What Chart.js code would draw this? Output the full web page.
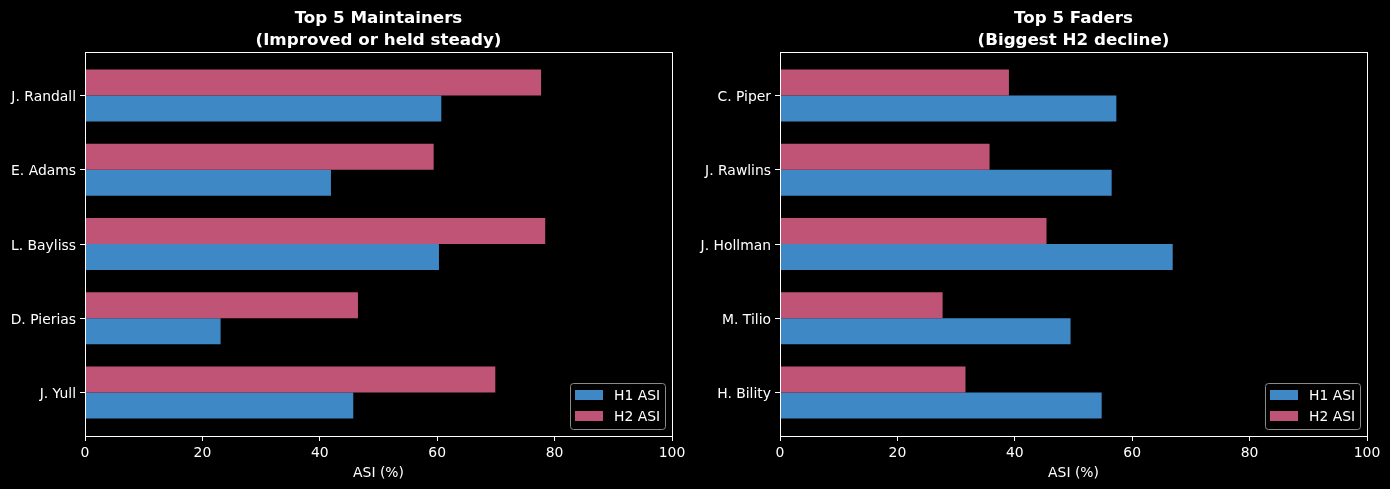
<!DOCTYPE html>
<html>
<head>
<meta charset="utf-8">
<script src="https://cdn.jsdelivr.net/npm/chart.js@4"></script>
<style>
  body { margin: 0; background: #000; }
  .wrap { position: absolute; top: 0; width: 695px; height: 489px; }
</style>
</head>
<body>
<div class="wrap" style="left:0"><canvas id="left" width="695" height="489"></canvas></div>
<div class="wrap" style="left:695px"><canvas id="right" width="695" height="489"></canvas></div>
<script>
const maintainers = ['J. Randall', 'E. Adams', 'L. Bayliss', 'D. Pierias', 'J. Yull'];
const maintainersH1 = [60.7, 41.9, 60.3, 23.1, 45.7];
const maintainersH2 = [77.7, 59.4, 78.4, 46.5, 69.9];

const faders = ['C. Piper', 'J. Rawlins', 'J. Hollman', 'M. Tilio', 'H. Bility'];
const fadersH1 = [57.3, 56.5, 66.9, 49.5, 54.8];
const fadersH2 = [39.0, 35.7, 45.4, 27.7, 31.6];

const xTicks = [0, 20, 40, 60, 80, 100];

const H1_COLOR = '#3e88c6';
const H2_COLOR = '#c05476';

Chart.defaults.font.family = 'DejaVu Sans';
Chart.defaults.color = '#fff';

// matplotlib-style spines on all four sides
const frame = {
  id: 'frame',
  afterDatasetsDraw(chart) {
    const a = chart.chartArea, ctx = chart.ctx;
    ctx.save();
    ctx.strokeStyle = '#fff';
    ctx.lineWidth = 1;
    ctx.strokeRect(Math.round(a.left) + 0.5, Math.round(a.top) + 0.5,
      Math.round(a.right - a.left), Math.round(a.bottom - a.top));
    ctx.restore();
  }
};

// legend drawn inside the plot, lower right
const insideLegend = {
  id: 'insideLegend',
  afterDraw(chart) {
    const a = chart.chartArea, ctx = chart.ctx;
    const items = chart.data.datasets.slice().reverse();
    const w = 95, h = 46;
    const x = a.right - 7 - w, y = a.bottom - 7 - h;
    ctx.save();
    ctx.beginPath();
    ctx.roundRect(x + 0.5, y + 0.5, w, h, 3);
    ctx.fillStyle = 'rgba(0,0,0,0.8)';
    ctx.fill();
    ctx.strokeStyle = '#8a8a8a';
    ctx.lineWidth = 1;
    ctx.stroke();
    ctx.font = '13.9px "DejaVu Sans"';
    ctx.textBaseline = 'middle';
    items.forEach((ds, i) => {
      const cy = y + 12 + i * 21;
      ctx.fillStyle = ds.backgroundColor;
      ctx.fillRect(x + 5, cy - 5, 28, 10);
      ctx.fillStyle = '#fff';
      ctx.fillText(ds.label, x + 44, cy + 1);
    });
    ctx.restore();
  }
};

function makeChart(id, titleLines, names, h1, h2) {
  new Chart(document.getElementById(id), {
    type: 'bar',
    data: {
      datasets: [
        { label: 'H2 ASI', data: h2.map((v, i) => ({ x: v, y: i })), backgroundColor: H2_COLOR },
        { label: 'H1 ASI', data: h1.map((v, i) => ({ x: v, y: i })), backgroundColor: H1_COLOR }
      ]
    },
    options: {
      indexAxis: 'y',
      responsive: false,
      animation: false,
      categoryPercentage: 0.7,
      barPercentage: 1.0,
      layout: { padding: { right: 23 } },
      plugins: {
        legend: { display: false },
        tooltip: { enabled: false },
        title: {
          display: true,
          text: titleLines,
          fullSize: false,
          color: '#fff',
          font: { size: 16.7, weight: 'bold', lineHeight: 1.3 },
          padding: { top: 8, bottom: 0.6 }
        }
      },
      scales: {
        x: {
          type: 'linear',
          min: 0,
          max: 100,
          afterBuildTicks: s => { s.ticks = xTicks.map(v => ({ value: v })); },
          afterFit: s => { s.height = 53; },
          ticks: { font: { size: 13.9 }, color: '#fff', padding: 4, maxRotation: 0 },
          grid: { drawOnChartArea: false, tickLength: 5, tickColor: '#fff' },
          border: { color: '#fff' },
          title: { display: true, text: 'ASI (%)', color: '#fff', font: { size: 13.9 }, padding: { top: 2, bottom: 7 } }
        },
        y: {
          type: 'linear',
          reverse: true,
          offset: false,
          min: -0.585,
          max: 4.585,
          afterBuildTicks: s => { s.ticks = names.map((_, i) => ({ value: i })); },
          afterFit: s => { s.width = 85; },
          ticks: { font: { size: 13.9 }, color: '#fff', padding: 4, labelOffset: 2, autoSkip: false, callback: v => names[v] },
          grid: { offset: false, drawOnChartArea: false, tickLength: 5, tickColor: '#fff' },
          border: { color: '#fff' }
        }
      }
    },
    plugins: [frame, insideLegend]
  });
}

makeChart('left', ['Top 5 Maintainers', '(Improved or held steady)'], maintainers, maintainersH1, maintainersH2);
makeChart('right', ['Top 5 Faders', '(Biggest H2 decline)'], faders, fadersH1, fadersH2);
</script>
</body>
</html>
